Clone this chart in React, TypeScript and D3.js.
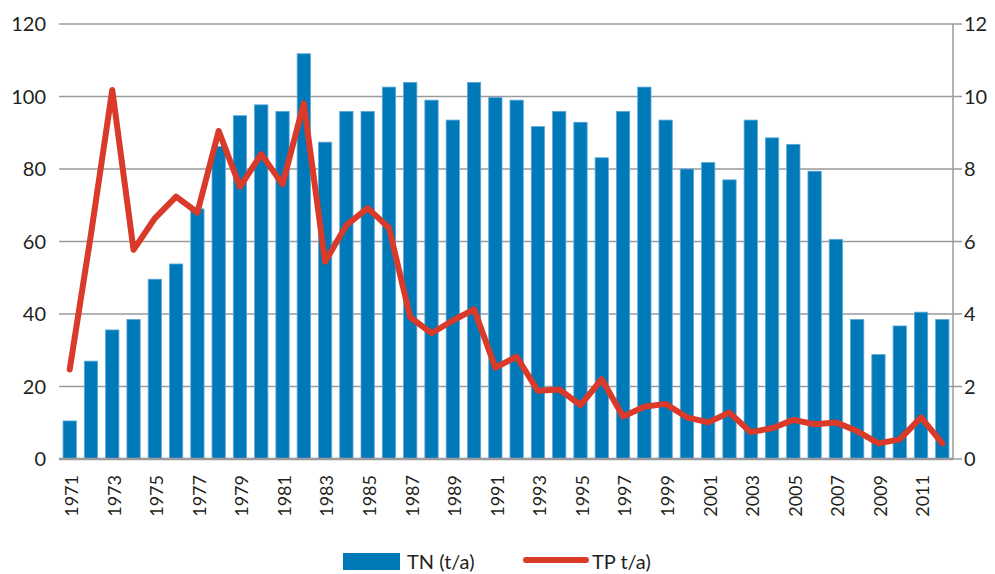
import React, { useEffect, useRef } from "react";
import * as d3 from "d3";

// Annual loads, 1971–2012
const years: number[] = d3.range(1971, 2013);

const tnValues: number[] = [
  10.5, 27.0, 35.6, 38.5, 49.6, 53.8, 69.0, 86.2, 94.7, 97.7,
  95.9, 111.8, 87.4, 95.9, 95.9, 102.6, 103.9, 99.0, 93.5, 103.9,
  99.7, 99.0, 91.7, 95.9, 92.9, 83.1, 95.9, 102.6, 93.5, 80.0,
  81.8, 77.0, 93.5, 88.6, 86.8, 79.4, 60.6, 38.5, 28.8, 36.7,
  40.5, 38.5,
];

const tpValues: number[] = [
  2.47, 6.2, 10.18, 5.77, 6.64, 7.24, 6.8, 9.05, 7.51, 8.41,
  7.58, 9.81, 5.44, 6.45, 6.92, 6.38, 3.91, 3.47, 3.82, 4.13,
  2.52, 2.82, 1.88, 1.92, 1.49, 2.2, 1.17, 1.44, 1.52, 1.15,
  1.01, 1.28, 0.74, 0.85, 1.08, 0.96, 1.01, 0.77, 0.43, 0.54,
  1.15, 0.43,
];

const leftTicks: number[] = [0, 20, 40, 60, 80, 100, 120];
const rightTicks: number[] = [0, 2, 4, 6, 8, 10, 12];
const legendLabels: string[] = ["TN (t/a)", "TP t/a)"];

const W = 995;
const H = 574;
const FONT = "Lato, 'Open Sans', sans-serif";
const BLUE = "#0079b9";
const RED = "#d93a2a";
const GRID = "#9a9a9e";

export default function App() {
  const ref = useRef<SVGSVGElement>(null);

  useEffect(() => {
    const svg = d3.select(ref.current);
    svg.selectAll("*").remove();

    const left = 59;
    const right = 953;
    const top = 24;
    const bottom = 459;

    const x = d3
      .scaleBand<number>()
      .domain(years)
      .range([left, right])
      .paddingInner(0.375)
      .paddingOuter(0.19);
    const yL = d3.scaleLinear().domain([0, 120]).range([bottom, top]);
    const yR = d3.scaleLinear().domain([0, 12]).range([bottom, top]);

    // horizontal gridlines
    svg
      .append("g")
      .selectAll("line")
      .data(leftTicks.filter((t) => t > 0))
      .join("line")
      .attr("x1", left)
      .attr("x2", right)
      .attr("y1", (d) => yL(d))
      .attr("y2", (d) => yL(d))
      .attr("stroke", GRID)
      .attr("stroke-width", 1.5);

    // left tick labels
    svg
      .append("g")
      .selectAll("text")
      .data(leftTicks)
      .join("text")
      .attr("x", 46)
      .attr("y", (d) => yL(d))
      .attr("dy", "0.35em")
      .attr("text-anchor", "end")
      .attr("font-family", FONT)
      .attr("font-size", 20)
      .attr("fill", "#231f20")
      .text((d) => d);

    // bars
    svg
      .append("g")
      .selectAll("rect")
      .data(years)
      .join("rect")
      .attr("x", (d) => x(d)!)
      .attr("width", x.bandwidth())
      .attr("y", (d, i) => yL(tnValues[i]))
      .attr("height", (d, i) => bottom - yL(tnValues[i]))
      .attr("fill", BLUE)
      .attr("stroke", "#5fa9d6")
      .attr("stroke-width", 0.8);

    // right axis line and ticks
    const ra = svg.append("g");
    ra.append("line")
      .attr("x1", right)
      .attr("x2", right)
      .attr("y1", top)
      .attr("y2", bottom)
      .attr("stroke", GRID)
      .attr("stroke-width", 1.5);
    ra.selectAll("line.tk")
      .data(rightTicks)
      .join("line")
      .attr("class", "tk")
      .attr("x1", right)
      .attr("x2", right + 9)
      .attr("y1", (d) => yR(d))
      .attr("y2", (d) => yR(d))
      .attr("stroke", GRID)
      .attr("stroke-width", 1.5);
    ra.selectAll("text")
      .data(rightTicks)
      .join("text")
      .attr("x", 964)
      .attr("y", (d) => yR(d))
      .attr("dy", "0.35em")
      .attr("font-family", FONT)
      .attr("font-size", 20)
      .attr("fill", "#231f20")
      .text((d) => d);

    // baseline
    svg
      .append("line")
      .attr("x1", left)
      .attr("x2", right)
      .attr("y1", bottom)
      .attr("y2", bottom)
      .attr("stroke", GRID)
      .attr("stroke-width", 2.5);

    // TP line
    const line = d3
      .line<number>()
      .x((d, i) => x(years[i])! + x.bandwidth() / 2)
      .y((d) => yR(d));
    svg
      .append("path")
      .datum(tpValues)
      .attr("d", line)
      .attr("fill", "none")
      .attr("stroke", RED)
      .attr("stroke-width", 6)
      .attr("stroke-linejoin", "round")
      .attr("stroke-linecap", "round");

    // year labels, every other year
    svg
      .append("g")
      .selectAll("text")
      .data(years.filter((y) => (y - 1971) % 2 === 0))
      .join("text")
      .attr(
        "transform",
        (d) => `translate(${x(d)! + x.bandwidth() / 2 + 2},${475}) rotate(-90)`
      )
      .attr("dy", "0.35em")
      .attr("text-anchor", "end")
      .attr("font-family", FONT)
      .attr("font-size", 18)
      .attr("fill", "#231f20")
      .text((d) => d);

    // legend
    const lg = svg.append("g");
    lg.append("rect")
      .attr("x", 343)
      .attr("y", 553)
      .attr("width", 57)
      .attr("height", 17)
      .attr("fill", BLUE);
    lg.append("text")
      .attr("x", 407)
      .attr("y", 569)
      .attr("font-family", FONT)
      .attr("font-size", 20)
      .attr("fill", "#231f20")
      .text(legendLabels[0]);
    lg.append("line")
      .attr("x1", 526)
      .attr("x2", 586)
      .attr("y1", 560)
      .attr("y2", 560)
      .attr("stroke", RED)
      .attr("stroke-width", 6)
      .attr("stroke-linecap", "round");
    lg.append("text")
      .attr("x", 592)
      .attr("y", 569)
      .attr("font-family", FONT)
      .attr("font-size", 20)
      .attr("fill", "#231f20")
      .text(legendLabels[1]);
  }, []);

  return (
    <svg
      ref={ref}
      width={W}
      height={H}
      style={{ position: "absolute", left: 0, top: 0, background: "#fff" }}
    />
  );
}
